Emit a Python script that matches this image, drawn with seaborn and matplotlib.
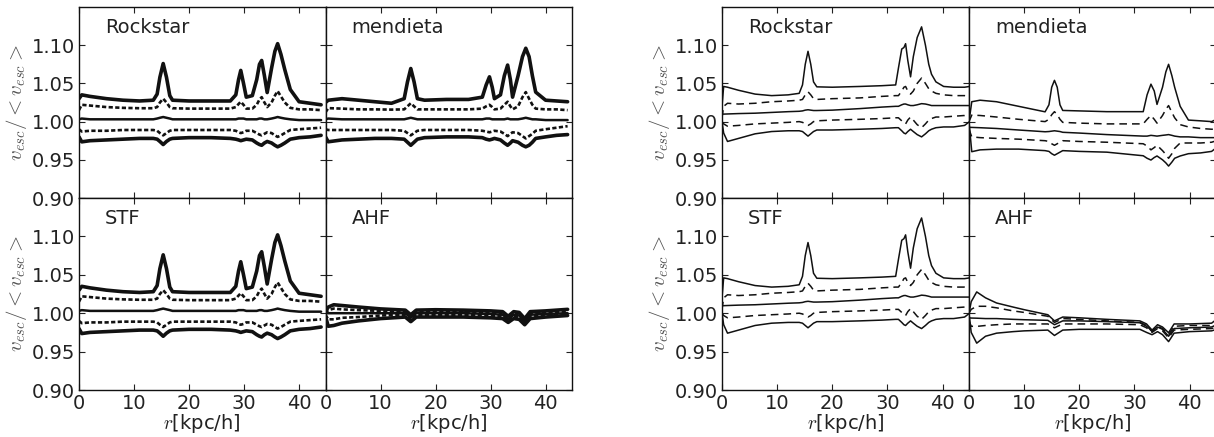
import matplotlib
matplotlib.use("Agg")
import matplotlib.pyplot as plt
import seaborn as sns

# ---------------- data ----------------
# Left group (thick noisy curves), Rockstar (STF identical)
r_lr = [0, 0.5, 2, 5, 8, 11, 13.5, 14.2, 14.7, 15.3, 15.9, 16.5, 17, 20, 24, 27.5, 28.5, 29.0, 29.4,
        29.9, 30.4, 31.5, 32.3, 32.8, 33.2, 33.7, 34.2, 35.0, 35.6, 36.1, 36.7, 37.4, 38.4, 40, 42, 44]
lr_hi = [1.030, 1.035, 1.033, 1.030, 1.028, 1.027, 1.028, 1.036, 1.058, 1.076, 1.058, 1.034, 1.028,
         1.027, 1.027, 1.027, 1.035, 1.055, 1.067, 1.050, 1.032, 1.034, 1.055, 1.075, 1.080, 1.060,
         1.038, 1.070, 1.092, 1.102, 1.088, 1.068, 1.042, 1.026, 1.024, 1.022]
lr_uq = [1.015, 1.022, 1.021, 1.019, 1.018, 1.0175, 1.0175, 1.019, 1.025, 1.030, 1.025, 1.019, 1.0175,
         1.017, 1.017, 1.017, 1.019, 1.023, 1.026, 1.022, 1.017, 1.017, 1.022, 1.029, 1.032, 1.025,
         1.019, 1.025, 1.034, 1.040, 1.033, 1.025, 1.018, 1.016, 1.016, 1.015]
lr_md = [1.003, 1.004, 1.003, 1.003, 1.003, 1.003, 1.003, 1.004, 1.005, 1.006, 1.005, 1.004, 1.003,
         1.003, 1.003, 1.003, 1.003, 1.004, 1.004, 1.004, 1.003, 1.003, 1.003, 1.004, 1.004, 1.003,
         1.003, 1.004, 1.005, 1.006, 1.005, 1.004, 1.003, 1.002, 1.002, 1.002]
lr_lq = [0.990, 0.987, 0.988, 0.988, 0.989, 0.989, 0.989, 0.988, 0.985, 0.982, 0.985, 0.988, 0.989,
         0.989, 0.989, 0.989, 0.988, 0.986, 0.985, 0.986, 0.988, 0.988, 0.985, 0.983, 0.982, 0.984,
         0.986, 0.985, 0.982, 0.980, 0.982, 0.985, 0.989, 0.990, 0.991, 0.992]
lr_lo = [0.980, 0.9735, 0.975, 0.976, 0.977, 0.978, 0.978, 0.977, 0.974, 0.970, 0.974, 0.977, 0.978,
         0.979, 0.979, 0.978, 0.977, 0.976, 0.975, 0.976, 0.977, 0.976, 0.972, 0.970, 0.969, 0.972,
         0.974, 0.972, 0.969, 0.967, 0.969, 0.972, 0.977, 0.979, 0.980, 0.982]

# Left group, mendieta
r_lm = [0, 0.5, 3, 6, 9, 12, 14.3, 14.9, 15.5, 16.1, 16.7, 18, 22, 26, 28.5, 29.2, 29.8, 30.3, 30.7,
        31.8, 32.5, 33.1, 33.6, 34.0, 35.0, 35.8, 36.4, 37.0, 37.6, 38.2, 40, 42, 44]
lm_hi = [1.025, 1.028, 1.030, 1.028, 1.026, 1.024, 1.030, 1.052, 1.0695, 1.052, 1.030, 1.028, 1.029,
         1.029, 1.032, 1.048, 1.0586, 1.045, 1.030, 1.035, 1.060, 1.074, 1.055, 1.032, 1.060, 1.085,
         1.096, 1.085, 1.060, 1.0386, 1.028, 1.027, 1.026]
lm_uq = [1.012, 1.0176, 1.017, 1.016, 1.016, 1.0157, 1.016, 1.020, 1.024, 1.020, 1.016, 1.016, 1.016,
         1.016, 1.017, 1.020, 1.022, 1.019, 1.016, 1.017, 1.022, 1.026, 1.020, 1.016, 1.020, 1.032,
         1.0386, 1.030, 1.022, 1.017, 1.016, 1.016, 1.015]
lm_md = [1.003, 1.004, 1.003, 1.003, 1.003, 1.003, 1.003, 1.004, 1.005, 1.004, 1.003, 1.003, 1.003,
         1.003, 1.003, 1.004, 1.004, 1.003, 1.003, 1.003, 1.003, 1.004, 1.003, 1.003, 1.003, 1.004,
         1.005, 1.004, 1.003, 1.003, 1.002, 1.002, 1.002]
lm_lq = [0.990, 0.989, 0.989, 0.989, 0.989, 0.989, 0.988, 0.985, 0.982, 0.985, 0.988, 0.989, 0.989,
         0.989, 0.988, 0.987, 0.986, 0.987, 0.988, 0.987, 0.984, 0.981, 0.984, 0.986, 0.985, 0.981,
         0.978, 0.981, 0.984, 0.988, 0.990, 0.992, 0.994]
lm_lo = [0.980, 0.9736, 0.976, 0.977, 0.978, 0.978, 0.977, 0.973, 0.969, 0.973, 0.977, 0.979, 0.980,
         0.980, 0.979, 0.977, 0.976, 0.977, 0.978, 0.976, 0.972, 0.969, 0.972, 0.975, 0.973, 0.969,
         0.967, 0.969, 0.973, 0.978, 0.980, 0.982, 0.983]

# Left group, AHF
r_la = [0, 0.5, 1.5, 3, 6, 10, 14.5, 15.5, 16.5, 20, 25, 30, 32.2, 33.2, 34.2, 35.2, 36.2, 37.2, 40, 44]
la_hi = [1.002, 1.008, 1.011, 1.010, 1.008, 1.0056, 1.004, 0.998, 1.004, 1.0045, 1.004, 1.003, 1.002,
         0.996, 1.002, 1.001, 0.993, 1.002, 1.003, 1.005]
la_uq = [1.000, 1.004, 1.006, 1.005, 1.004, 1.003, 1.002, 0.996, 1.002, 1.002, 1.002, 1.001, 1.000,
         0.994, 1.000, 0.999, 0.991, 1.000, 1.001, 1.002]
la_md = [1.000, 1.000, 1.000, 1.000, 1.000, 1.000, 1.000, 0.994, 1.000, 1.000, 1.000, 0.999, 0.998,
         0.992, 0.998, 0.997, 0.989, 0.998, 0.999, 1.000]
la_lq = [0.998, 0.992, 0.992, 0.994, 0.995, 0.997, 0.998, 0.992, 0.998, 0.998, 0.998, 0.997, 0.996,
         0.990, 0.996, 0.995, 0.987, 0.996, 0.997, 0.998]
la_lo = [0.996, 0.983, 0.984, 0.987, 0.990, 0.993, 0.995, 0.989, 0.995, 0.995, 0.995, 0.994, 0.993,
         0.988, 0.993, 0.992, 0.985, 0.993, 0.995, 0.997]

# Right group (thin curves), Rockstar (STF identical)
r_rr = [0, 0.3, 1, 3, 6, 9, 12, 14, 14.6, 15.1, 15.6, 16.1, 16.6, 17.2, 20, 25, 29, 31.5, 32.0,
        32.6, 33.0, 33.3, 33.7, 34.2, 34.7, 35.4, 36.2, 36.9, 37.5, 38, 38.8, 40.2, 42, 44, 44.9]
rr_hi = [1.020, 1.046, 1.045, 1.041, 1.036, 1.034, 1.035, 1.037, 1.048, 1.075, 1.092, 1.075, 1.052,
         1.0455, 1.045, 1.046, 1.047, 1.048, 1.070, 1.095, 1.097, 1.102, 1.080, 1.0586, 1.085, 1.110,
         1.124, 1.100, 1.075, 1.062, 1.052, 1.046, 1.045, 1.045, 1.046]
rr_uq = [1.005, 1.020, 1.024, 1.023, 1.024, 1.026, 1.027, 1.028, 1.029, 1.035, 1.039, 1.035, 1.030,
         1.029, 1.030, 1.031, 1.033, 1.034, 1.034, 1.040, 1.045, 1.046, 1.040, 1.036, 1.040, 1.050,
         1.057, 1.050, 1.043, 1.040, 1.037, 1.035, 1.034, 1.034, 1.033]
rr_md = [1.010, 1.0098, 1.010, 1.0105, 1.011, 1.012, 1.013, 1.0135, 1.014, 1.015, 1.0155, 1.015,
         1.0145, 1.0145, 1.015, 1.017, 1.019, 1.020, 1.020, 1.022, 1.023, 1.023, 1.022, 1.021, 1.021,
         1.022, 1.0235, 1.023, 1.022, 1.021, 1.021, 1.021, 1.021, 1.021, 1.021]
rr_lq = [1.000, 0.997, 0.994, 0.995, 0.997, 0.998, 0.999, 1.000, 0.999, 0.997, 0.995, 0.997, 1.000,
         1.001, 1.002, 1.003, 1.004, 1.005, 1.005, 1.001, 0.998, 0.997, 1.002, 1.006, 1.002, 0.996,
         0.992, 0.997, 1.002, 1.004, 1.006, 1.006, 1.007, 1.008, 1.010]
rr_lo = [1.000, 0.985, 0.974, 0.978, 0.984, 0.987, 0.988, 0.988, 0.987, 0.984, 0.981, 0.984, 0.987,
         0.989, 0.989, 0.990, 0.991, 0.992, 0.992, 0.988, 0.985, 0.984, 0.987, 0.990, 0.987, 0.983,
         0.980, 0.984, 0.988, 0.990, 0.992, 0.993, 0.993, 0.995, 1.000]

# Right group, mendieta
r_rm = [0, 0.5, 2, 5, 9, 13.8, 14.5, 15.0, 15.5, 16.0, 16.5, 17, 20, 25, 31.6, 32.3, 33.0, 33.6,
        34.1, 35.1, 35.7, 36.2, 36.8, 37.3, 38.3, 39.8, 42, 44, 44.9]
rm_hi = [1.000, 1.026, 1.028, 1.026, 1.020, 1.0128, 1.022, 1.045, 1.054, 1.045, 1.022, 1.0146, 1.014,
         1.013, 1.013, 1.035, 1.049, 1.040, 1.0225, 1.045, 1.065, 1.075, 1.060, 1.045, 1.020, 1.002,
         1.001, 1.000, 1.003]
rm_uq = [1.000, 1.0085, 1.008, 1.006, 1.003, 1.000, 1.003, 1.009, 1.013, 1.009, 1.003, 0.999, 0.998,
         0.997, 0.997, 1.003, 1.008, 1.003, 0.998, 1.008, 1.016, 1.021, 1.012, 1.005, 0.996, 0.993,
         0.991, 0.990, 0.990]
rm_md = [0.9925, 0.9924, 0.992, 0.991, 0.989, 0.9867, 0.987, 0.9875, 0.988, 0.9875, 0.987, 0.986,
         0.985, 0.983, 0.981, 0.981, 0.982, 0.9815, 0.981, 0.982, 0.9825, 0.983, 0.982, 0.981, 0.980,
         0.980, 0.979, 0.979, 0.979]
rm_lq = [0.990, 0.980, 0.979, 0.978, 0.977, 0.975, 0.974, 0.971, 0.969, 0.971, 0.973, 0.975, 0.974,
         0.973, 0.971, 0.968, 0.963, 0.966, 0.969, 0.962, 0.957, 0.952, 0.958, 0.965, 0.972, 0.972,
         0.972, 0.973, 0.975]
rm_lo = [1.000, 0.9606, 0.963, 0.964, 0.964, 0.962, 0.961, 0.958, 0.956, 0.958, 0.960, 0.962, 0.961,
         0.960, 0.9553, 0.952, 0.9497, 0.953, 0.955, 0.950, 0.946, 0.9418, 0.947, 0.952, 0.955, 0.958,
         0.959, 0.961, 0.966]

# Right group, AHF
r_ra = [0, 0.4, 1.4, 3, 5, 8, 10, 14.3, 15.5, 17, 20, 25, 31, 32.2, 33.2, 34.2, 35.1, 36.2, 37.2,
        40, 44, 44.9]
ra_hi = [1.000, 1.015, 1.0277, 1.020, 1.0133, 1.008, 1.0046, 0.998, 0.990, 0.995, 0.994, 0.992, 0.990,
         0.986, 0.978, 0.985, 0.982, 0.9746, 0.986, 0.986, 0.987, 0.992]
ra_uq = [1.000, 1.005, 1.009, 1.009, 1.007, 1.003, 1.001, 0.996, 0.988, 0.993, 0.992, 0.990, 0.988,
         0.984, 0.976, 0.983, 0.980, 0.972, 0.983, 0.984, 0.984, 0.988]
ra_md = [0.994, 0.9937, 0.9935, 0.993, 0.993, 0.992, 0.9915, 0.9907, 0.985, 0.990, 0.990, 0.989, 0.9876,
         0.983, 0.977, 0.982, 0.979, 0.970, 0.980, 0.981, 0.982, 0.985]
ra_lq = [0.990, 0.983, 0.9828, 0.984, 0.985, 0.986, 0.986, 0.986, 0.981, 0.986, 0.986, 0.986, 0.985,
         0.981, 0.975, 0.980, 0.977, 0.968, 0.978, 0.979, 0.980, 0.982]
ra_lo = [1.000, 0.975, 0.961, 0.970, 0.974, 0.976, 0.977, 0.978, 0.971, 0.978, 0.979, 0.979, 0.979,
         0.975, 0.972, 0.976, 0.972, 0.963, 0.974, 0.976, 0.977, 0.979]

panel_names = ["Rockstar", "mendieta", "STF", "AHF"]
y_ticks = [0.90, 0.95, 1.00, 1.05, 1.10]
x_ticks = [0, 10, 20, 30, 40]
x_label = "$r$[kpc/h]"
y_label = "$v_{esc}/<v_{esc}>$"

# ---------------- style ----------------
sns.set_style("ticks")
plt.rcParams["font.family"] = ["DejaVu Sans"]
plt.rcParams["mathtext.fontset"] = "cm"
plt.rcParams["axes.linewidth"] = 1.0

W, H = 1214, 437
fig = plt.figure(figsize=(W / 100, H / 100), dpi=100)


def axpos(x0, x1, y0, y1):
    return [x0 / W, 1 - y1 / H, (x1 - x0) / W, (y1 - y0) / H]


cols_left = [(79, 325.5), (325.5, 572)]
cols_right = [(722, 969), (969, 1216)]
rows = [(7, 198), (198, 390)]

left_data = {
    "Rockstar": (r_lr, [lr_hi, lr_uq, lr_md, lr_lq, lr_lo]),
    "mendieta": (r_lm, [lm_hi, lm_uq, lm_md, lm_lq, lm_lo]),
    "STF": (r_lr, [lr_hi, lr_uq, lr_md, lr_lq, lr_lo]),
    "AHF": (r_la, [la_hi, la_uq, la_md, la_lq, la_lo]),
}
right_data = {
    "Rockstar": (r_rr, [rr_hi, rr_uq, rr_md, rr_lq, rr_lo]),
    "mendieta": (r_rm, [rm_hi, rm_uq, rm_md, rm_lq, rm_lo]),
    "STF": (r_rr, [rr_hi, rr_uq, rr_md, rr_lq, rr_lo]),
    "AHF": (r_ra, [ra_hi, ra_uq, ra_md, ra_lq, ra_lo]),
}

left_styles = [("-", 2.6), ((0, (1.6, 0.9)), 1.9), ("-", 1.8), ((0, (1.6, 0.9)), 1.9), ("-", 2.6)]
right_styles = [("-", 1.1), ((0, (5, 3.3)), 1.1), ("-", 1.1), ((0, (5, 3.3)), 1.1), ("-", 1.1)]

for cols, data, styles in [(cols_left, left_data, left_styles),
                           (cols_right, right_data, right_styles)]:
    for i, name in enumerate(panel_names):
        row, col = divmod(i, 2)
        x0, x1 = cols[col]
        y0, y1 = rows[row]
        ax = fig.add_axes(axpos(x0, x1, y0, y1))
        rr, curves = data[name]
        for yv, (ls, lw) in zip(curves, styles):
            sns.lineplot(x=rr, y=yv, ax=ax, color="#111111", linestyle=ls, linewidth=lw,
                         estimator=None, sort=False)
        ax.set_xlim(0, 44.8)
        ax.set_ylim(0.90, 1.15)
        ax.set_xticks(x_ticks)
        ax.set_yticks(y_ticks)
        ax.tick_params(direction="in", length=4.5, width=0.8, top=True, right=True,
                       labelsize=14, colors="#222222", pad=3)
        for s in ax.spines.values():
            s.set_color("#111111")
        ax.text(0.105, 0.895, name, transform=ax.transAxes, fontsize=14,
                ha="left", va="center", color="#222222")
        if col == 0:
            ax.set_ylabel(y_label, fontsize=15, color="#555555", labelpad=2)
        else:
            ax.set_yticklabels([])
            ax.set_ylabel("")
        if row == 1:
            ax.set_xlabel(x_label, fontsize=14, color="#222222", labelpad=-1)
        else:
            ax.set_xticklabels([])
            ax.set_xlabel("")

fig.savefig("out.png", dpi=100)
